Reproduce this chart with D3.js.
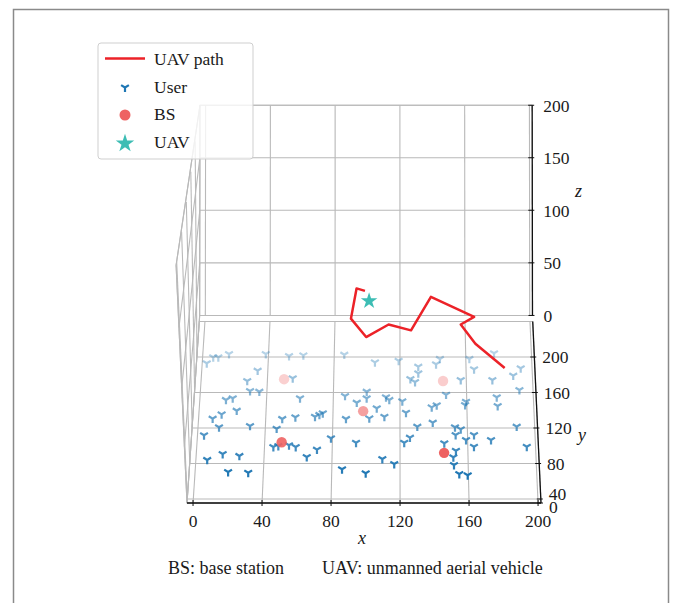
<!DOCTYPE html>
<html>
<head>
<meta charset="utf-8">
<script src="https://cdn.jsdelivr.net/npm/d3@7"></script>
<style>
  html, body { margin: 0; padding: 0; background: #fff; }
  svg { display: block; font-family: "Liberation Serif", "Times New Roman", serif; }
</style>
</head>
<body>
<svg id="chart" width="674" height="603"></svg>
<script>
// ---------- data ----------
const xTicks = [0, 40, 80, 120, 160, 200];
const yTicks = [0, 40, 80, 120, 160, 200];
const zTicks = [0, 50, 100, 150, 200];

// ground users, all on the ground plane (z = 0)
const userX = [2.7, 6.4, 9.5, 15.9, 38.3, 52.5, 61.2, 86.1, 104.8, 119.2, 131.1, 141.9, 144.3, 162.2, 164.9, 177.3, 188.5, 193.2,
  33.8, 27.8, 55.2, 131.1, 126.3, 129.1, 156.7, 175.8, 191.9, 29.8, 35.4, 15.6, 19.6, 60.0, 87.0, 100.0, 100.0, 94.1,
  111.6, 113.6, 121.4, 147.7, 139.0, 142.0, 159.6, 159.0, 178.1, 178.5, 22.4, 13.5, 8.3, 106.1, 123.6, 110.7, 101.7,
  87.8, 73.9, 71.9, 69.3, 57.6, 49.8, 12.4, 30.8, 46.7, 130.3, 139.5, 152.7, 156.1, 153.0, 163.9, 189.4, 3.8, 79.1,
  125.9, 122.5, 94.0, 159.1, 163.7, 173.9, 194.9, 45.2, 48.1, 54.4, 58.4, 71.0, 146.2, 153.0, 151.4, 151.7, 65.1,
  15.5, 25.4, 6.6, 109.6, 116.6, 86.0, 99.9, 19.3, 31.1, 154.7, 159.6];
const userY = [192.9, 199.7, 199.7, 203.4, 203.4, 201.1, 201.9, 202.6, 194.0, 195.8, 189.1, 191.8, 197.8, 197.8, 186.2, 204.2, 179.0, 187.3,
  184.6, 173.0, 176.0, 181.7, 175.2, 171.8, 174.1, 174.1, 162.8, 161.7, 160.9, 151.6, 153.5, 153.5, 156.1, 160.9, 153.5, 148.5,
  154.6, 151.6, 150.1, 157.5, 143.3, 145.6, 149.6, 145.9, 154.6, 144.8, 139.5, 135.4, 130.5, 142.2, 137.2, 132.7, 130.9,
  130.2, 136.6, 134.7, 132.7, 132.1, 130.2, 120.8, 122.3, 119.2, 121.5, 126.0, 120.8, 118.5, 112.1, 112.1, 121.5, 111.8, 108.4,
  109.1, 103.4, 103.4, 106.5, 98.9, 106.5, 98.9, 98.6, 99.7, 100.5, 98.6, 95.6, 102.8, 94.4, 87.0, 78.3, 87.3,
  90.7, 88.5, 84.0, 85.1, 79.4, 73.5, 69.0, 70.4, 69.6, 68.2, 66.7];

// base stations on the ground
const bsX = [50, 146, 98, 50, 146];
const bsY = [175, 173, 139, 104, 92];

// UAV trajectory flown at a constant altitude
const pathX = [179, 163, 155, 163, 138, 126, 113, 100, 91, 94, 99];
const pathY = [59, 88, 111, 120, 144, 104, 111, 96, 118, 154, 151];
const uavAltitude = 100;
const uavPos = [101.5, 139];

// ---------- 3-D view ----------
const xLim = [-3.5, 201.7], yLim = [35.5, 240], zLim = [0, 200];
const yBack = 246.8;           // back pane sits just behind the floor's far edge

const xn = d3.scaleLinear().domain(xLim).range([0, 1]);
const yn = d3.scaleLinear().domain(yLim).range([0, 1]);
const zn = d3.scaleLinear().domain(zLim).range([0, 1]);
const floorRow = d3.scaleLinear().domain([0, 1]).range([503, 321.5]);
const centreCol = d3.scaleLinear().domain([0, 1]).range([364, 366]);
const boxW = 354, boxH = 224, depthK = 0.0616, liftK = 0.058;

function project(x, y, z) {
  const t = yn(y), h = zn(z);
  const s = 1 / (1 + depthK * t - liftK * h * (1 - t));
  return [centreCol(t) + (xn(x) - 0.5) * boxW * s, floorRow(t) - h * boxH * s];
}

const svg = d3.select("#chart");
const line3 = d3.line().x(p => p[0]).y(p => p[1]);
const seg = (a, b) => line3([project(...a), project(...b)]);

const gridColor = "#b9b9b9";
const gGrid = svg.append("g").attr("fill", "none").attr("stroke", gridColor).attr("stroke-width", 1.1);

const [x0, x1] = xLim, [y0, y1] = yLim, [z0, z1] = zLim;
const yc = v => Math.max(v, y0);

// pane outlines
const panes = [
  [[x0, y0, 0], [x1, y0, 0], [x1, y1, 0], [x0, y1, 0]],          // floor
  [[x0, yBack, z0], [x1, yBack, z0], [x1, yBack, z1], [x0, yBack, z1]], // back wall
  [[x0, y0, z0], [x0, yBack, z0], [x0, yBack, z1], [x0, y0, z1]]    // left wall
];
panes.forEach(p => gGrid.append("path").attr("d", line3(p.map(q => project(...q))) + "Z"));

// floor grid
xTicks.forEach(x => gGrid.append("path").attr("d", seg([x, y0, 0], [x, y1, 0])));
yTicks.forEach(y => gGrid.append("path").attr("d", seg([x0, yc(y), 0], [x1, yc(y), 0])));
// back wall grid
xTicks.forEach(x => gGrid.append("path").attr("d", seg([x, yBack, z0], [x, yBack, z1])));
zTicks.forEach(z => gGrid.append("path").attr("d", seg([x0, yBack, z], [x1, yBack, z])));
// left wall grid
yTicks.forEach(y => gGrid.append("path").attr("d", seg([x0, yc(y), z0], [x0, yc(y), z1])));
zTicks.forEach(z => gGrid.append("path").attr("d", seg([x0, y0, z], [x0, yBack, z])));

// ---------- marks ----------
const users = userX.map((x, i) => ({ x, y: userY[i] }));
const bss = bsX.map((x, i) => ({ x, y: bsY[i] }));

// depth shading: nearer marks are more opaque
const userAlpha = d3.scaleLinear().domain(d3.extent(userY)).range([1, 0.32]);
const bsAlpha = d3.scaleLinear().domain(d3.extent(bsY)).range([1, 0.3]);

const userColor = "#1f77b4", bsColor = "#ee6262", uavColor = "#3dbdb4", pathColor = "#ec2228";
const triDown = "M0,0L0,4.4M0,0L-3.9,-2.4M0,0L3.9,-2.4";

svg.append("g").selectAll("path").data(users).join("path")
  .attr("d", triDown)
  .attr("transform", d => `translate(${project(d.x, d.y, 0)})`)
  .attr("fill", "none").attr("stroke", userColor).attr("stroke-width", 2.2)
  .attr("stroke-opacity", d => userAlpha(d.y));

svg.append("g").selectAll("circle").data(bss).join("circle")
  .attr("cx", d => project(d.x, d.y, 0)[0])
  .attr("cy", d => project(d.x, d.y, 0)[1])
  .attr("r", 5.2)
  .attr("fill", bsColor).attr("fill-opacity", d => bsAlpha(d.y));

svg.append("path")
  .attr("d", line3(pathX.map((x, i) => project(x, pathY[i], uavAltitude))))
  .attr("fill", "none").attr("stroke", pathColor).attr("stroke-width", 2.5)
  .attr("stroke-linejoin", "round");

const star = d3.symbol().type(d3.symbolStar);
svg.append("path")
  .attr("d", star.size(85)())
  .attr("transform", `translate(${project(uavPos[0], uavPos[1], uavAltitude)})`)
  .attr("fill", uavColor);

// ---------- axes ----------
const gAxis = svg.append("g").attr("fill", "none").attr("stroke", "#111");
gAxis.append("path").attr("d", seg([x0, y0, 0], [x1, y0, 0])).attr("stroke-width", 1.6);  // x axis
gAxis.append("path").attr("d", seg([x1, y0, 0], [x1, y1, 0])).attr("stroke-width", 1.3);  // y axis
gAxis.append("path").attr("d", seg([x1, yBack, z0], [x1, yBack, z1])).attr("stroke-width", 1.3); // z axis

xTicks.forEach(x => {
  const [u, v] = project(x, y0, 0);
  gAxis.append("line").attr("x1", u).attr("x2", u).attr("y1", v - 3).attr("y2", v + 3).attr("stroke-width", 1);
});
yTicks.forEach(y => {
  const [u, v] = project(x1, yc(y), 0);
  gAxis.append("line").attr("x1", u - 4).attr("x2", u + 2).attr("y1", v).attr("y2", v).attr("stroke-width", 1);
});
zTicks.forEach(z => {
  const [u, v] = project(x1, yBack, z);
  gAxis.append("line").attr("x1", u - 4).attr("x2", u + 2).attr("y1", v).attr("y2", v).attr("stroke-width", 1);
});

const gText = svg.append("g").attr("fill", "#1a1a1a").attr("font-size", 17.5);
xTicks.forEach(x => {
  const [u, v] = project(x, y0, 0);
  gText.append("text").attr("x", u).attr("y", v + 24).attr("text-anchor", "middle").text(x);
});
// labels crowding the near corner are spread apart
yTicks.forEach(y => {
  const [u, v] = project(x1, yc(y), 0);
  const nudge = y < y0 ? 9.5 : (y - y0 < 10 ? 1 : 6);
  gText.append("text").attr("x", u + 8).attr("y", v + nudge).text(y);
});
zTicks.forEach(z => {
  const [u, v] = project(x1, yBack, z);
  gText.append("text").attr("x", u + 11).attr("y", v + 6.5).text(z);
});

const gLab = svg.append("g").attr("fill", "#1a1a1a").attr("font-size", 18).attr("font-style", "italic");
gLab.append("text").attr("x", 362).attr("y", 544).attr("text-anchor", "middle").text("x");
gLab.append("text").attr("x", 578).attr("y", 441).text("y");
gLab.append("text").attr("x", 575).attr("y", 197).text("z");

// ---------- legend ----------
const lg = svg.append("g").attr("font-size", 17.5).attr("fill", "#1a1a1a");
lg.append("rect").attr("x", 98).attr("y", 43).attr("width", 155).attr("height", 116).attr("rx", 3)
  .attr("fill", "#fff").attr("fill-opacity", 0.8).attr("stroke", "#cfcfcf").attr("stroke-width", 1);
lg.append("line").attr("x1", 105).attr("x2", 145).attr("y1", 58.5).attr("y2", 58.5)
  .attr("stroke", pathColor).attr("stroke-width", 2.5);
lg.append("path").attr("d", triDown).attr("transform", "translate(125,87.5)")
  .attr("fill", "none").attr("stroke", userColor).attr("stroke-width", 2.2);
lg.append("circle").attr("cx", 125).attr("cy", 115).attr("r", 5.5).attr("fill", bsColor);
lg.append("path").attr("d", star.size(105)()).attr("transform", "translate(125,143.5)").attr("fill", uavColor);
const legendLabels = ["UAV path", "User", "BS", "UAV"];
legendLabels.forEach((t, i) => lg.append("text").attr("x", 154).attr("y", 65 + i * 27.7).text(t));

// ---------- frame and notes ----------
svg.append("rect").attr("x", 13.5).attr("y", 9.5).attr("width", 655).attr("height", 620)
  .attr("fill", "none").attr("stroke", "#8a8a8a").attr("stroke-width", 1.5);
const notes = svg.append("g").attr("font-size", 18).attr("fill", "#1a1a1a");
notes.append("text").attr("x", 168).attr("y", 574).text("BS: base station");
notes.append("text").attr("x", 322).attr("y", 574).text("UAV: unmanned aerial vehicle");
</script>
</body>
</html>
